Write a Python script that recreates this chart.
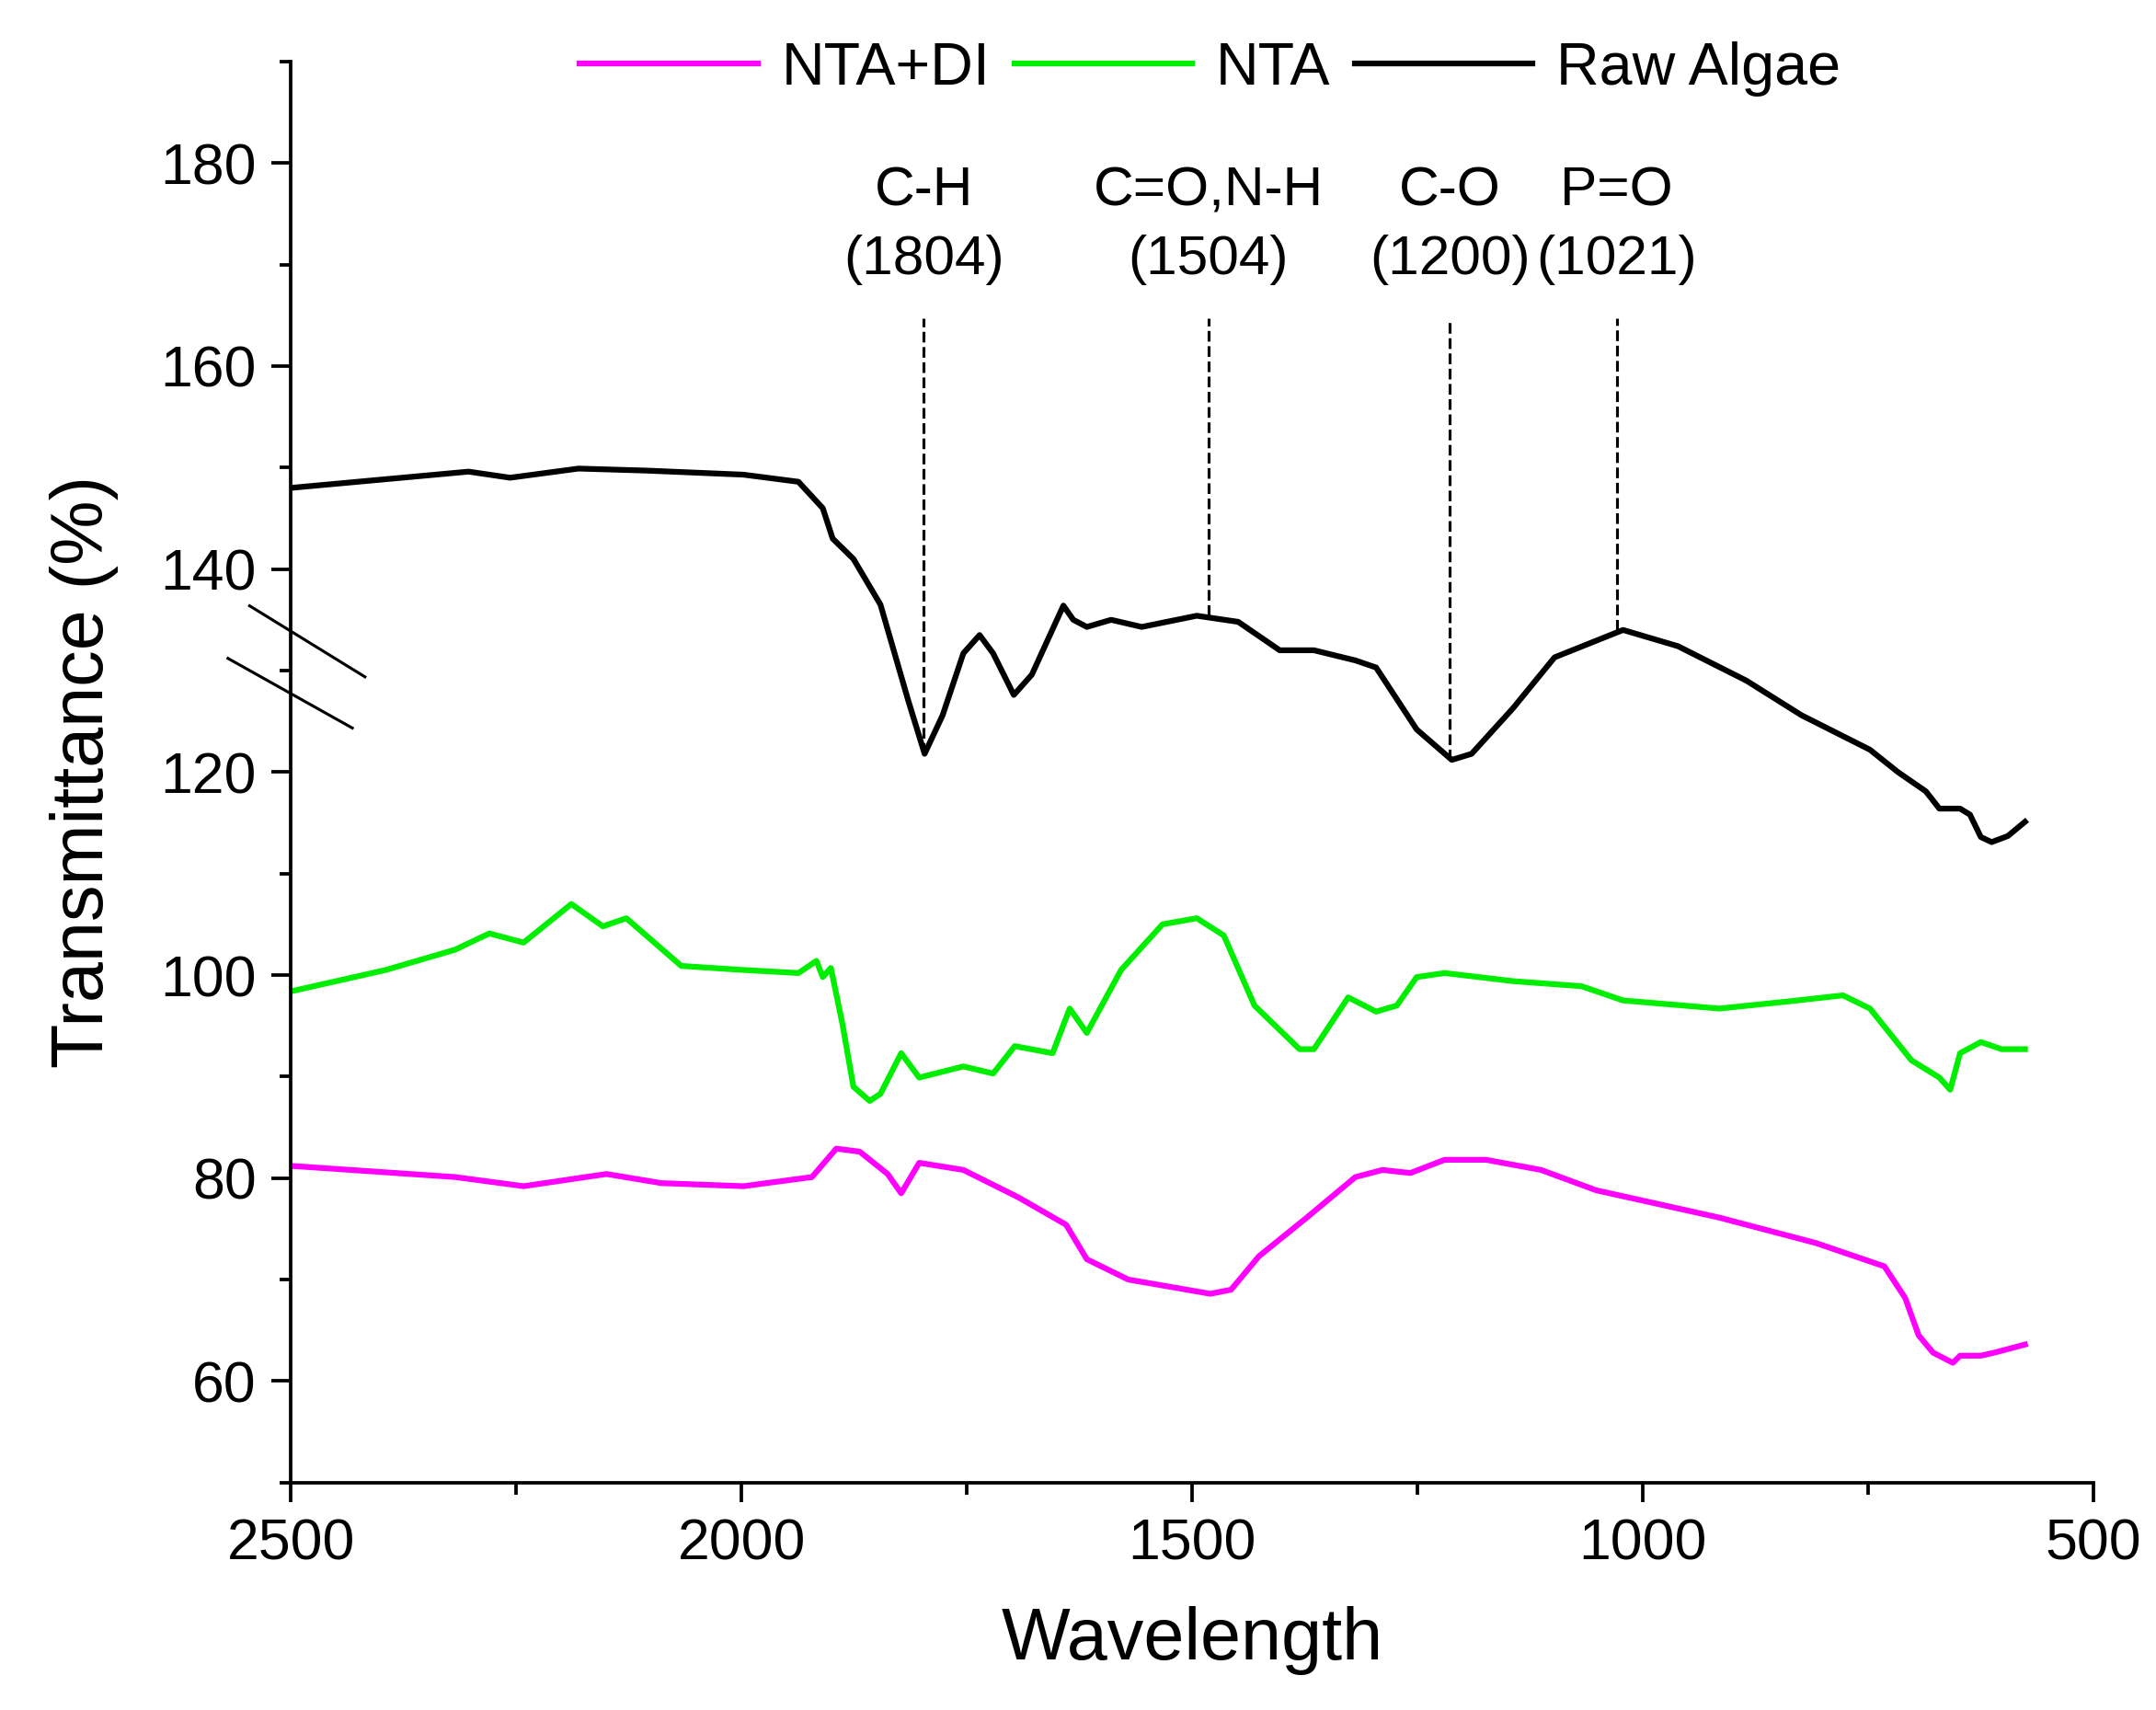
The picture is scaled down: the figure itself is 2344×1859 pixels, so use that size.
import numpy as np, pandas as pd, seaborn as sns, matplotlib
matplotlib.use("Agg")
import matplotlib.pyplot as plt
from matplotlib.ticker import MultipleLocator

raw_x = [2500,2303,2257,2181,2105,1998,1937,1910,1899,1876,1846,1815,1797,1777,1754,1736,1721,1698,1678,1643,1632,1617,1590,1556,1495,1449,1403,1365,1319,1296,1251,1212,1190,1144,1098,1022,961,885,824,748,717,686,671,648,637,625,613,595,576]
raw_y = [148,149.6,149,149.9,149.7,149.3,148.6,146,143,141,136.5,127,121.8,125.6,131.7,133.5,131.7,127.6,129.6,136.4,135,134.3,135,134.3,135.4,134.8,132,132,131,130.3,124.2,121.2,121.8,126.3,131.3,134,132.4,129,125.6,122.2,120,118.1,116.4,116.4,115.8,113.6,113.1,113.7,115.1]
nta_x = [2500,2395,2318,2280,2242,2189,2154,2128,2067,1998,1937,1917,1910,1901,1888,1876,1858,1846,1823,1803,1754,1721,1697,1655,1636,1617,1579,1533,1495,1465,1431,1381,1365,1327,1296,1273,1251,1220,1144,1068,1022,915,839,778,748,702,671,659,648,625,602,576]
nta_y = [98.4,100.5,102.5,104.1,103.2,107,104.8,105.6,100.9,100.5,100.2,101.4,99.8,100.7,95.1,89,87.6,88.3,92.3,89.9,91,90.3,93,92.3,96.7,94.3,100.5,105,105.6,103.9,97,92.7,92.7,97.8,96.4,97,99.8,100.2,99.4,98.9,97.5,96.7,97.4,98,96.7,91.6,89.9,88.7,92.3,93.4,92.7,92.7]
di_x = [2500,2318,2242,2150,2089,1998,1922,1895,1869,1838,1823,1803,1754,1693,1640,1617,1571,1480,1457,1426,1373,1319,1289,1258,1220,1174,1113,1052,915,808,732,709,694,678,656,648,625,610,576]
di_y = [81.2,80.1,79.2,80.4,79.5,79.2,80.1,82.9,82.6,80.4,78.5,81.5,80.8,78.1,75.4,72,70,68.6,69,72.3,76.1,80.1,80.8,80.5,81.8,81.8,80.8,78.8,76.1,73.6,71.3,68.2,64.5,62.8,61.8,62.5,62.5,62.8,63.6]
peak_x = [1798,1482,1214,1029]
peak_y = [121.8,135.4,121.2,134]
peak_labels = ["C-H\n(1804)","C=O,N-H\n(1504)","C-O\n(1200)","P=O\n(1021)"]

plt.rcParams["font.family"] = "Liberation Sans"
df = pd.concat([
    pd.DataFrame({"w": di_x, "t": di_y, "s": "NTA+DI"}),
    pd.DataFrame({"w": nta_x, "t": nta_y, "s": "NTA"}),
    pd.DataFrame({"w": raw_x, "t": raw_y, "s": "Raw Algae"})])
fig = plt.figure(figsize=(2344/150, 1859/150), dpi=150)
ax = fig.add_axes([0.135, 0.133, 0.836, 0.831])
sns.lineplot(data=df, x="w", y="t", hue="s", sort=False, estimator=None,
             palette={"NTA+DI": "#ff00ff", "NTA": "#00ee00", "Raw Algae": "black"},
             linewidth=3, ax=ax)
for px, py, lab in zip(peak_x, peak_y, peak_labels):
    ax.plot([px, px], [py, 164.7], ls="--", color="black", lw=1.5)
    ax.text(px, 168, lab, ha="center", va="bottom", fontsize=29, linespacing=1.45)
ax.set_xlim(2500, 500)
ax.set_ylim(50, 190)
ax.xaxis.set_major_locator(MultipleLocator(500)); ax.xaxis.set_minor_locator(MultipleLocator(250))
ax.yaxis.set_major_locator(MultipleLocator(20)); ax.yaxis.set_minor_locator(MultipleLocator(10))
ax.tick_params(which="major", length=10, width=1.8, labelsize=30, pad=8)
ax.tick_params(which="minor", length=6, width=1.8)
for s in ["top", "right"]:
    ax.spines[s].set_visible(False)
for s in ["left", "bottom"]:
    ax.spines[s].set_linewidth(1.8)
ax.set_xlabel("Wavelength", fontsize=38, labelpad=18)
ax.set_ylabel("Transmittance (%)", fontsize=38, labelpad=22)
for (x0, y0, x1, y1) in [(-0.023, 0.617, 0.041, 0.567), (-0.035, 0.580, 0.034, 0.531)]:
    ax.plot([x0, x1], [y0, y1], color="black", lw=1.5, transform=ax.transAxes, clip_on=False)
h, l = ax.get_legend_handles_labels()
ax.legend(h, l, loc="center", bbox_to_anchor=(0.51, 0.995), ncol=3, frameon=False,
          fontsize=31, handlelength=3, columnspacing=0.4, handletextpad=0.4)
fig.savefig("out.png", dpi=150)
